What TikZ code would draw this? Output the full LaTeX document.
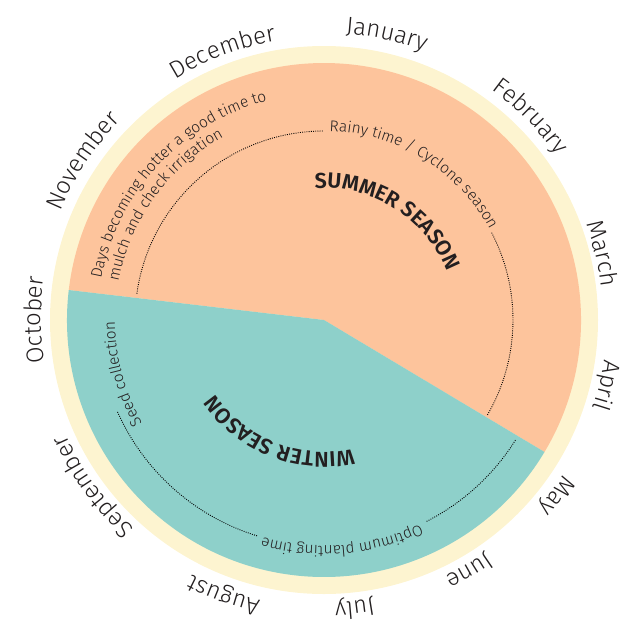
\documentclass[tikz,border=0pt]{standalone}
\usepackage{fontspec}
\setmainfont{Fira Sans}[UprightFont={* Light},BoldFont={* SemiBold}]
\usetikzlibrary{decorations.text}

\definecolor{summer}{HTML}{FDC49C}
\definecolor{winter}{HTML}{8ED0CA}
\definecolor{cream}{HTML}{FDF4D0}
\definecolor{ink}{HTML}{231F20}

\newcommand{\monthsize}{\fontsize{24}{28}\selectfont}
\newcommand{\notesize}{\fontsize{15.5}{18}\selectfont}
\newcommand{\seasonsize}{\fontsize{21.5}{24}\selectfont\bfseries}

\begin{document}
\begin{tikzpicture}[
  arctext/.style={decorate,decoration={text along path,text align=center,text color=ink,text={#1}}},
  lefttext/.style={decorate,decoration={text along path,text align=left,text color=ink,text={#1}}},
  dots/.style={line width=0.9pt,dash pattern=on 0.9pt off 1.3pt}
]
\useasboundingbox (-324pt,-302pt) rectangle (299pt,320pt);

% ring and the two seasons
\fill[cream] (0,0) circle[radius=274pt];
\fill[summer] (0,0) -- (-30.9:257pt) arc[start angle=-30.9,end angle=173.3,radius=257pt] -- cycle;
\fill[winter] (0,0) -- (173.3:257pt) arc[start angle=173.3,end angle=329.1,radius=257pt] -- cycle;

% dotted guides
\draw[dots] (172:189pt) arc[start angle=172,end angle=90,radius=189pt];
\draw[dots] (27.5:189pt) arc[start angle=27.5,end angle=-30.5,radius=189pt];
\draw[dots] (204:226pt) arc[start angle=204,end angle=253,radius=226pt];
\draw[dots] (297:226pt) arc[start angle=297,end angle=328,radius=226pt];

% months
\path[arctext=|\monthsize|January] (107.6:287pt) arc[start angle=107.6,end angle=47.6,radius=287pt];
\path[arctext=|\monthsize|February] (74.6:285pt) arc[start angle=74.6,end angle=14.6,radius=285pt];
\path[arctext=|\monthsize|March] (43.4:279pt) arc[start angle=43.4,end angle=-16.6,radius=279pt];
\path[arctext=|\monthsize|April] (16.9:283pt) arc[start angle=16.9,end angle=-43.1,radius=283pt];
\path[arctext=|\monthsize|May] (-7:285pt) arc[start angle=-7,end angle=-67,radius=285pt];
\path[arctext=|\monthsize|June] (-29.9:283pt) arc[start angle=-29.9,end angle=-89.9,radius=283pt];
\path[arctext=|\monthsize|July] (-53.9:283pt) arc[start angle=-53.9,end angle=-113.9,radius=283pt];
\path[arctext=|\monthsize|August] (-80:287pt) arc[start angle=-80,end angle=-140,radius=287pt];
\path[arctext=|\monthsize|September] (-114.2:282pt) arc[start angle=-114.2,end angle=-174.2,radius=282pt];
\path[arctext=|\monthsize|October] (-150:283pt) arc[start angle=-150,end angle=-210,radius=283pt];
\path[arctext=|\monthsize|November] (176.6:285pt) arc[start angle=176.6,end angle=116.6,radius=285pt];
\path[arctext=|\monthsize|December] (140.7:283pt) arc[start angle=140.7,end angle=80.7,radius=283pt];

% seasons
\path[arctext=|\seasonsize|SUMMER SEASON] (107.7:132pt) arc[start angle=107.7,end angle=7.7,radius=132pt];
\path[arctext=|\seasonsize|WINTER SEASON] (-61.5:132pt) arc[start angle=-61.5,end angle=-161.5,radius=132pt];

% notes
\path[arctext=|\notesize|Rainy time / Cyclone season] (98.5:189pt) arc[start angle=98.5,end angle=18.5,radius=189pt];
\path[arctext=|\notesize|Optimum planting time] (-55.3:226pt) arc[start angle=-55.3,end angle=-115.3,radius=226pt];
\path[arctext=|\notesize|Seed collection] (225:209pt) arc[start angle=225,end angle=165,radius=209pt];
\path[lefttext=|\notesize|Days becoming hotter a good time to] (169.5:226.5pt) arc[start angle=169.5,end angle=89.5,radius=226.5pt];
\path[lefttext=|\notesize|mulch and check irrigation] (169.5:209pt) arc[start angle=169.5,end angle=99.5,radius=209pt];
\end{tikzpicture}
\end{document}
